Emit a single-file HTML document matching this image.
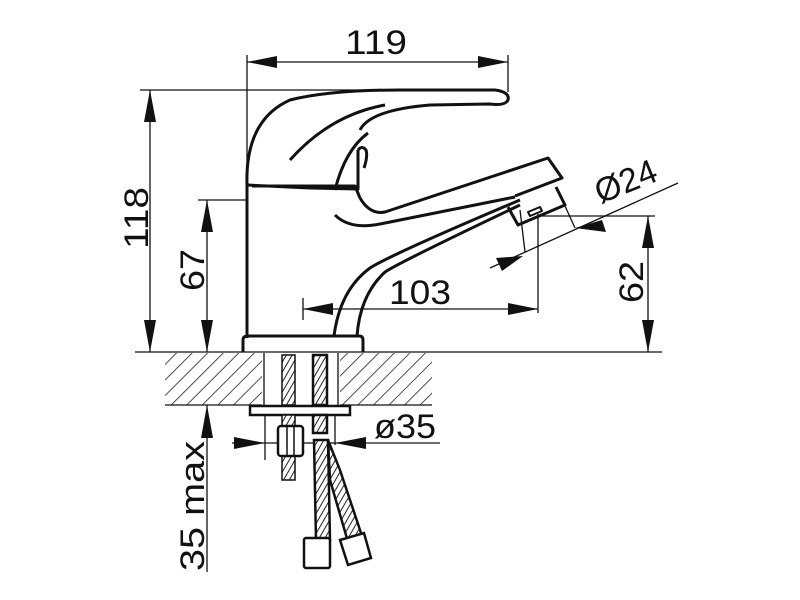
<!DOCTYPE html>
<html><head><style>
html,body{margin:0;padding:0;background:#fff;}
svg{display:block;}
text{font-family:"Liberation Sans",sans-serif;fill:#111;}
</style></head><body>
<svg width="800" height="600" viewBox="0 0 800 600" xmlns="http://www.w3.org/2000/svg">
<defs>
<pattern id="h" patternUnits="userSpaceOnUse" width="11" height="11" patternTransform="rotate(45)">
<line x1="0" y1="0" x2="0" y2="11" stroke="#222" stroke-width="1.6"/>
</pattern>
<pattern id="b" patternUnits="userSpaceOnUse" width="5" height="5" patternTransform="rotate(30)">
<rect width="5" height="5" fill="#fff"/>
<line x1="0" y1="0" x2="0" y2="5" stroke="#222" stroke-width="2"/>
</pattern>
</defs>
<g stroke="#111" fill="none" stroke-width="1.3">
<rect x="165" y="353" width="97" height="52" fill="url(#h)" stroke="none"/>
<rect x="340" y="353" width="92" height="52" fill="url(#h)" stroke="none"/>
<line x1="165" y1="405" x2="262" y2="405"/>
<line x1="340" y1="405" x2="432" y2="405"/>
<line x1="264" y1="353" x2="264" y2="405"/>
<line x1="338" y1="353" x2="338" y2="405"/>
<line x1="135" y1="352" x2="662" y2="352"/>
<line x1="247" y1="55" x2="247" y2="185"/>
<line x1="508" y1="55" x2="508" y2="92"/>
<line x1="247" y1="62" x2="508" y2="62"/>
<line x1="140" y1="90" x2="500" y2="90"/>
<line x1="150" y1="90" x2="150" y2="352"/>
<line x1="198" y1="200" x2="247" y2="200"/>
<line x1="207" y1="200" x2="207" y2="352"/>
<line x1="540" y1="216" x2="655" y2="216"/>
<line x1="648" y1="216" x2="648" y2="352"/>
<line x1="303" y1="298" x2="303" y2="320"/>
<line x1="538" y1="214" x2="538" y2="313"/>
<line x1="303" y1="309" x2="538" y2="309"/>
<line x1="490" y1="268" x2="678" y2="183"/>
<line x1="520" y1="210" x2="525" y2="252"/>
<line x1="560" y1="195" x2="575" y2="228"/>
<line x1="207" y1="405" x2="207" y2="572"/>
<line x1="232" y1="443" x2="440" y2="443"/>
<line x1="265" y1="412" x2="265" y2="460"/>
<line x1="335" y1="412" x2="335" y2="445"/>
</g>
<g fill="#111">
<polygon points="247,62 277,56 277,68"/>
<polygon points="508,62 478,56 478,68"/>
<polygon points="150,90 144,122 156,122"/>
<polygon points="150,352 144,320 156,320"/>
<polygon points="207,200 201,232 213,232"/>
<polygon points="207,352 201,320 213,320"/>
<polygon points="648,216 642,248 654,248"/>
<polygon points="648,352 642,320 654,320"/>
<polygon points="303,309 333,303 333,315"/>
<polygon points="538,309 508,303 508,315"/>
<polygon points="523,256 496,258 502,271"/>
<polygon points="575,228 602,220 606,232"/>
<polygon points="207,405 201,438 213,438"/>
<polygon points="265,443 234,437 234,449"/>
<polygon points="335,443 366,437 366,449"/>
</g>
<g stroke="#111" fill="none" stroke-width="3" stroke-linejoin="round">
<path d="M247,183 L247,338"/>
<path d="M243,352 L243,340 Q243,336 248,336 L359,336 Q363,336 363,340 L363,352"/>
<path d="M252,186 L355,186 L360,198"/>
<path d="M247,185 Q245,120 290,100 Q330,90 400,90 L495,90 Q510,92 508,100 Q505,106 490,104 L430,105 Q370,110 360,130"/>
<path d="M247,185 L310,188 L358,189 L358,150"/>
<path d="M290,160 Q330,115 385,105"/>
<path d="M358,150 Q362,145 366,150 Q368,156 364,168"/>
<path d="M335,190 Q345,150 368,133"/>
<path d="M360,198 Q370,215 385,212 L548,158 L562,178 L515,196"/>
<path d="M335,215 Q350,230 380,224 L515,197"/>
<path d="M334,336 Q340,290 370,268 Q390,255 520,200"/>
<path d="M357,336 Q360,295 385,272 Q400,262 520,205"/>
<path d="M508,207 L518,225 L565,205 L556,187"/>
<path d="M528,212 L540,207 L542,211 L530,216 Z" stroke-width="2"/>
</g>
<g stroke="#111" fill="#fff" stroke-width="2.5">
<rect x="250" y="406" width="100" height="9"/>
<rect x="282" y="355" width="13" height="50" fill="url(#b)" stroke-width="1.5"/>
<rect x="282" y="415" width="13" height="65" fill="url(#b)" stroke-width="1.5"/>
<rect x="278" y="426" width="25" height="30" rx="3"/>
<line x1="287" y1="426" x2="287" y2="456" stroke-width="1.5"/>
<line x1="294" y1="426" x2="294" y2="456" stroke-width="1.5"/>
<rect x="313" y="355" width="14" height="50" fill="url(#b)"/>
<rect x="313" y="415" width="14" height="18" fill="url(#b)"/>
<path d="M314,440 L328,440 L330,540 L316,540 Z" fill="url(#b)"/>
<path d="M328,440 L340,470 L362,536 L348,542 L330,480 Z" fill="url(#b)"/>
<rect x="304" y="538" width="26" height="30" rx="2"/>
<path d="M340,540 L364,533 L371,558 L348,565 Z"/>
</g>
<g font-size="34">
<text x="376" y="54" text-anchor="middle" textLength="62" lengthAdjust="spacingAndGlyphs">119</text>
<text x="420" y="304" text-anchor="middle" textLength="62" lengthAdjust="spacingAndGlyphs">103</text>
<text transform="translate(148,218) rotate(-90)" text-anchor="middle" textLength="62" lengthAdjust="spacingAndGlyphs">118</text>
<text transform="translate(204,270) rotate(-90)" text-anchor="middle" textLength="42" lengthAdjust="spacingAndGlyphs">67</text>
<text transform="translate(643,282) rotate(-90)" text-anchor="middle" textLength="42" lengthAdjust="spacingAndGlyphs">62</text>
<text transform="translate(204,506) rotate(-90)" text-anchor="middle" textLength="130" lengthAdjust="spacingAndGlyphs">35 max</text>
<text x="405" y="438" text-anchor="middle" textLength="62" lengthAdjust="spacingAndGlyphs">ø35</text>
<text transform="translate(630,192) rotate(-22)" text-anchor="middle" textLength="64" lengthAdjust="spacingAndGlyphs">Ø24</text>
</g>
</svg>
</body></html>
